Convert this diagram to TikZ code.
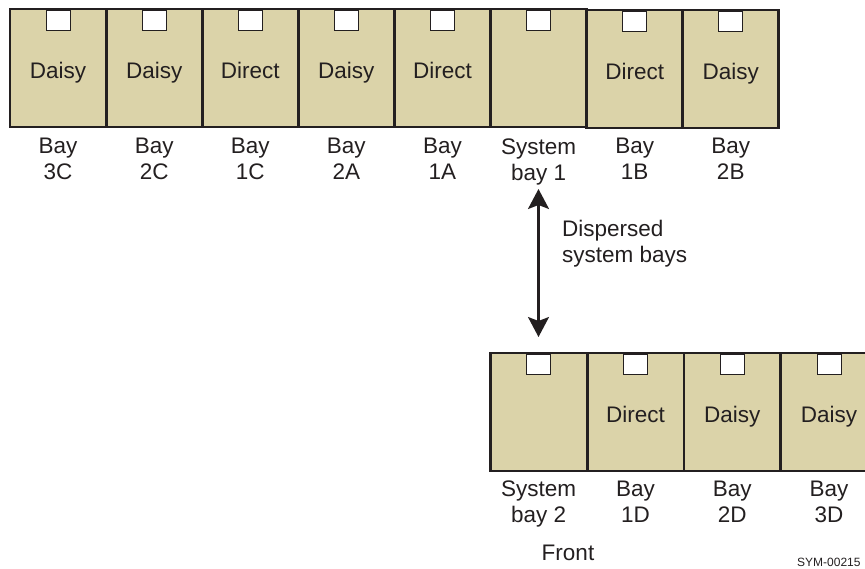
\documentclass[tikz,border=0pt]{standalone}
\usepackage{fontspec}
\setmainfont{Liberation Sans}
\usetikzlibrary{arrows.meta}
\definecolor{bayfill}{RGB}{219,211,169}
\definecolor{ink}{RGB}{35,31,32}
\begin{document}
\begin{tikzpicture}[x=1pt,y=-1pt,
  baybox/.style={draw=ink,fill=bayfill,line width=2.8pt,minimum width=96.1pt,minimum height=118pt,anchor=north west,inner sep=0pt,outer sep=0pt},
  slot/.style={draw=ink,fill=white,line width=0.8pt,minimum width=24pt,minimum height=20pt,anchor=north,inner sep=0pt},
  kind/.style={text=ink,font=\fontsize{22.5}{26}\selectfont,anchor=base,inner sep=0pt},
  baylabel/.style={text=ink,font=\fontsize{22.5}{26}\selectfont,anchor=north,align=center,inner sep=0pt},
  dbl/.style={draw=ink,line width=2.2pt,{Stealth[width=21pt,length=20pt,inset=4pt]}-{Stealth[width=21pt,length=20pt,inset=4pt]}},
]
\useasboundingbox (0,0) rectangle (865,568);
% top row
\foreach \i/\x/\y/\t/\a/\b in {1/10/9/Daisy/Bay/3C,2/106.1/9/Daisy/Bay/2C,3/202.2/9/Direct/Bay/1C,4/298.3/9/Daisy/Bay/2A,5/394.4/9/Direct/Bay/1A,6/490.5/9//System/bay 1,7/586.6/10/Direct/Bay/1B,8/682.7/10/Daisy/Bay/2B}{
  \node[baybox] (t\i) at (\x,\y) {};
  \node[slot] (ts\i) at ([yshift=-1.4pt]t\i.north) {};
  \node[kind] (tk\i) at (\x+48.05,\y+69.3) {\t};
  \node[baylabel] (tl\i) at (\x+48.05,138.2) {\a\\\b};
}
% bottom row
\foreach \i/\x/\t/\a/\b in {1/490.3//System/bay 2,2/587.1/Direct/Bay/1D,3/683.9/Daisy/Bay/2D,4/780.7/Daisy/Bay/3D}{
  \node[baybox,minimum width=96.8pt] (u\i) at (\x,353) {};
  \node[slot] (us\i) at ([yshift=-1.4pt]u\i.north) {};
  \node[kind] (uk\i) at (\x+48.4,422.7) {\t};
  \node[baylabel] (ul\i) at (\x+48.4,480.7) {\a\\\b};
}
\coordinate (atop) at (538.5,189);
\coordinate (abot) at (538.5,337);
\draw[dbl] (atop) -- (abot);
\node[text=ink,font=\fontsize{22.5}{26}\selectfont,anchor=north west,align=left,inner sep=0pt] (disp) at (562,219.7) {Dispersed\\system bays};
\node[kind] (front) at (568,560) {Front};
\node[text=ink,font=\fontsize{12}{14}\selectfont,anchor=base west,inner sep=0pt] (sym) at (797,566.5) {SYM-00215};
\end{tikzpicture}
\end{document}
